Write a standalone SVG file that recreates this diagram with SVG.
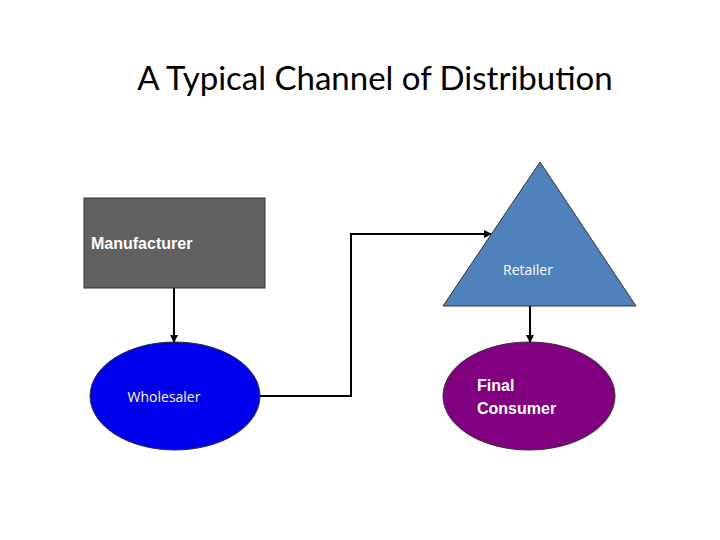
<svg xmlns="http://www.w3.org/2000/svg" width="720" height="540" viewBox="0 0 720 540">
<style>
.c{fill:none;stroke:#000;stroke-width:2;marker-end:url(#a)}
.s{stroke:#333;stroke-width:1}
.t{font-family:"Liberation Sans",Arial,sans-serif;font-weight:bold;font-size:16px;fill:#fff}
.o{font-family:"Open Sans","Liberation Sans",sans-serif;font-size:14px;fill:#fff}
</style>
<defs><marker id="a" markerWidth="8" markerHeight="8" refX="7" refY="4" orient="auto" markerUnits="userSpaceOnUse"><path d="M0,0L8,4L0,8z" fill="#000"/></marker></defs>
<rect width="720" height="540" fill="#fff"/>
<text x="375" y="90" text-anchor="middle" font-family="Lato,'Open Sans',sans-serif" font-size="33" fill="#000">A Typical Channel of Distribution</text>
<g id="connectors">
<path class="c" d="M174,288V342"/>
<path class="c" d="M259,396H351V234H491"/>
<path class="c" d="M530,306V342"/>
</g>
<g id="manufacturer"><rect class="s" x="84" y="198" width="181" height="90" fill="#616161"/><text class="t" x="91" y="249">Manufacturer</text></g>
<g id="retailer"><polygon class="s" points="540,162 636,306 443,306" fill="#4f81bd"/><text class="o" x="528" y="275" text-anchor="middle">Retailer</text></g>
<g id="wholesaler"><ellipse class="s" cx="175" cy="396" rx="85" ry="54" fill="#0000ee"/><text class="o" x="164" y="402" text-anchor="middle">Wholesaler</text></g>
<g id="consumer"><ellipse class="s" cx="529" cy="396" rx="86" ry="54" fill="#800080"/><text class="t" x="477" y="391">Final</text><text class="t" x="477" y="414">Consumer</text></g>
</svg>
